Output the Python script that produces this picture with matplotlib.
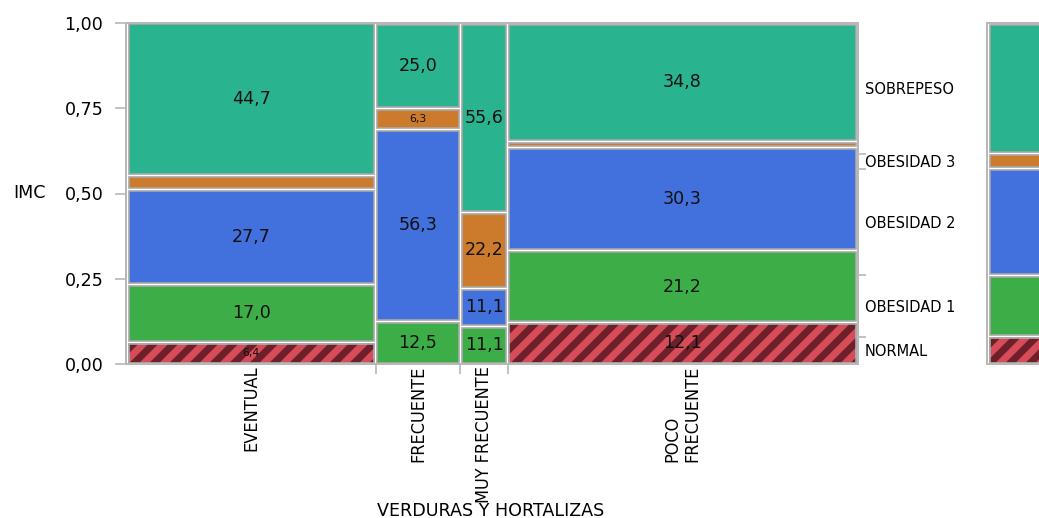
import numpy as np
import matplotlib
matplotlib.use('Agg')
import matplotlib.pyplot as plt
from matplotlib.patches import Rectangle
from matplotlib.collections import PolyCollection

# counts of each IMC level per consumption group (read from the % labels)
categories = ['EVENTUAL', 'FRECUENTE', 'MUY FRECUENTE', 'POCO\nFRECUENTE']
imc_levels = ['NORMAL', 'OBESIDAD 1', 'OBESIDAD 2', 'OBESIDAD 3', 'SOBREPESO']
normal    = [3, 0, 0, 8]
obesidad1 = [8, 2, 1, 14]
obesidad2 = [13, 9, 1, 20]
obesidad3 = [2, 1, 2, 1]
sobrepeso = [21, 4, 5, 23]
y_ticks = [0, 0.25, 0.5, 0.75, 1.0]

colors = ['#d64c58', '#3dae47', '#4270dc', '#cc7a2b', '#29b38f']
stripe = '#6e202a'
edge = '#a8a8a8'
spine_col = '#b8b8b8'

W, H, dpi = 1039, 518, 120
plt.rcParams['font.family'] = 'DejaVu Sans'

counts = np.array([normal, obesidad1, obesidad2, obesidad3, sobrepeso], dtype=float)
col_tot = counts.sum(axis=0)
fracs = counts / col_tot
widths = col_tot / col_tot.sum()
all_fracs = counts.sum(axis=1) / col_tot.sum()

fig = plt.figure(figsize=(W / dpi, H / dpi), dpi=dpi)


def px_axes(x0, y0, x1, y1):
    a = fig.add_axes([x0 / W, 1 - y1 / H, (x1 - x0) / W, (y1 - y0) / H])
    a.px_scale = (x1 - x0, y1 - y0)   # pixels per data unit (xlim/ylim 0..1)
    return a


def style_spines(a, right=True):
    for s in a.spines.values():
        s.set_color(spine_col)
        s.set_linewidth(1.2)
    a.spines['right'].set_visible(right)


def fmt(v, nd):
    # round half up, comma decimal
    return f'{v + 1e-9:.{nd}f}'.replace('.', ',')


def add_stripes(a, rect, x0, y0, w, h, period=20, dark=10):
    # diagonal dark bands (45 deg in pixel space), clipped to rect
    sx, sy = a.px_scale
    wp, hp = w * sx, h * sy
    polys = []
    c = -hp
    while c < wp:
        pts = [(c, 0), (c + dark, 0), (c + dark + hp, hp), (c + hp, hp)]
        polys.append([(x0 + px / sx, y0 + py / sy) for px, py in pts])
        c += period
    pc = PolyCollection(polys, facecolors=stripe, edgecolors='none')
    a.add_collection(pc)
    pc.set_clip_path(rect)


def draw_column(a, x0, x1, col_fracs, gy, labels=True):
    bottom = 0.0
    for k, f in enumerate(col_fracs):
        if f <= 0:
            continue
        y0 = bottom + gy / 2
        h = f - gy
        r = Rectangle((x0, y0), x1 - x0, h, facecolor=colors[k], edgecolor=edge,
                      linewidth=1.0)
        a.add_patch(r)
        if k == 0:
            add_stripes(a, r, x0, y0, x1 - x0, h)
            a.add_patch(Rectangle((x0, y0), x1 - x0, h, fill=False,
                                  edgecolor=edge, linewidth=1.0))
        p = f * 100
        if labels and p >= 5:
            fs = 6.5 if p < 10 else 10.5
            a.text((x0 + x1) / 2, bottom + f / 2, fmt(p, 1),
                   ha='center', va='center', fontsize=fs, color='#111111')
        bottom += f


# main mosaic
ax = px_axes(126, 23, 858, 364)
ax.set_xlim(0, 1)
ax.set_ylim(0, 1)
style_spines(ax)

gx = 3.0 / 732
gy = 3.0 / 341
usable = 1 - 2.0 / 732
left = 1.0 / 732
edges = left + np.concatenate([[0], np.cumsum(widths)]) * usable
for i in range(len(categories)):
    draw_column(ax, edges[i] + gx / 2, edges[i + 1] - gx / 2, fracs[:, i], gy)

ax.set_yticks(y_ticks)
ax.set_yticklabels([fmt(v, 2) for v in y_ticks], fontsize=10.5)
ax.tick_params(axis='y', length=6.5, width=1, color=spine_col, pad=7)

ax.set_xticks(edges[1:-1])
ax.set_xticklabels([])
ax.tick_params(axis='x', which='major', length=6, width=1, color=spine_col)
ax.set_xticks((edges[:-1] + edges[1:]) / 2, minor=True)
ax.set_xticklabels(categories, minor=True, rotation=90, va='top', ha='center',
                   multialignment='left', fontsize=10.8, fontstretch='condensed')
ax.tick_params(axis='x', which='minor', length=0, pad=1)

# right side level labels
ax2 = ax.twinx()
ax2.set_ylim(0, 1)
cum = np.cumsum(all_fracs)
ax2.set_yticks(cum[:-1])
ax2.set_yticklabels([])
ax2.tick_params(axis='y', which='major', length=5, width=1, color=spine_col)
ax2.set_yticks((np.concatenate([[0], cum[:-1]]) + cum) / 2, minor=True)
ax2.set_yticklabels(imc_levels, minor=True, fontsize=8.8)
ax2.tick_params(axis='y', which='minor', length=0, pad=4)
for s in ax2.spines.values():
    s.set_visible(False)

# overall column on the far right (cut off by the figure edge)
ax3 = px_axes(987, 23, 1110, 364)
ax3.set_xlim(0, 1)
ax3.set_ylim(0, 1)
style_spines(ax3, right=False)
ax3.set_xticks([])
ax3.set_yticks([])
draw_column(ax3, 3.0 / 123, 1.0, all_fracs, gy, labels=False)

fig.text(13 / W, 1 - 193 / H, 'IMC', ha='left', va='center', fontsize=10.5)
fig.text(491 / W, 1 - 511 / H, 'VERDURAS Y HORTALIZAS', ha='center', va='center',
         fontsize=10.5)

fig.savefig('out.png', dpi=dpi)
